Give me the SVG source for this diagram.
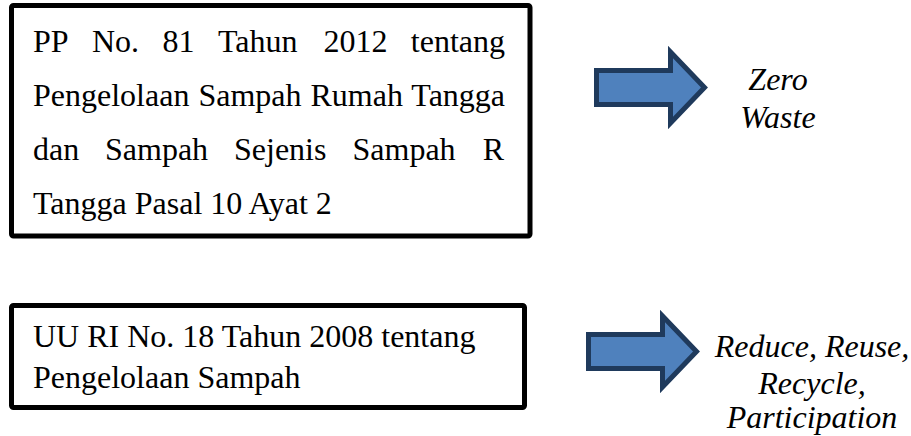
<svg xmlns="http://www.w3.org/2000/svg" width="911" height="436" viewBox="0 0 911 436">
<style>
.box{fill:#fff;stroke:#000;stroke-width:5;stroke-linejoin:round}
.arrow{fill:#4f81bd;stroke:#1f3a5c;stroke-width:5;stroke-linejoin:miter}
.t{font-family:'Liberation Serif','Times New Roman',serif;font-size:32px;fill:#000}
.i{font-family:'Liberation Serif','Times New Roman',serif;font-size:32px;font-style:italic;fill:#000;text-anchor:middle}
</style>
<rect width="911" height="436" fill="#fff"/>
<g id="node-pp81">
<rect class="box" x="11.5" y="5.5" width="518.5" height="230.5" rx="2"/>
<text class="t" y="52"><tspan x="33">PP</tspan><tspan x="92">No.</tspan><tspan x="162.5">81</tspan><tspan x="218">Tahun</tspan><tspan x="323.5">2012</tspan><tspan x="505" text-anchor="end">tentang</tspan></text>
<text class="t" x="33" y="106" word-spacing="1">Pengelolaan Sampah Rumah Tangga</text>
<text class="t" y="160"><tspan x="33">dan</tspan><tspan x="105">Sampah</tspan><tspan x="234">Sejenis</tspan><tspan x="352.5">Sampah</tspan><tspan x="504" text-anchor="end">R</tspan></text>
<text class="t" x="33" y="214">Tangga Pasal 10 Ayat 2</text>
</g>
<g id="node-uu18">
<rect class="box" x="11.5" y="305.5" width="513" height="102" rx="2"/>
<text class="t" x="33" y="347">UU RI No. 18 Tahun 2008 tentang</text>
<text class="t" x="33" y="388">Pengelolaan Sampah</text>
</g>
<g id="connectors">
<path class="arrow" d="M596.5,70.5 H670.5 V52 L704.5,87.5 L670.5,123 V104.5 H596.5 Z"/>
<path class="arrow" d="M588.5,334.5 H662.5 V316 L696.5,351.5 L662.5,387 V368.5 H588.5 Z"/>
</g>
<g id="node-zero-waste">
<text class="i" x="778" y="90">Zero</text>
<text class="i" x="778" y="128">Waste</text>
</g>
<g id="node-3r">
<text class="i" x="812" y="357">Reduce, Reuse,</text>
<text class="i" x="812" y="394">Recycle,</text>
<text class="i" x="812" y="428">Participation</text>
</g>
</svg>
